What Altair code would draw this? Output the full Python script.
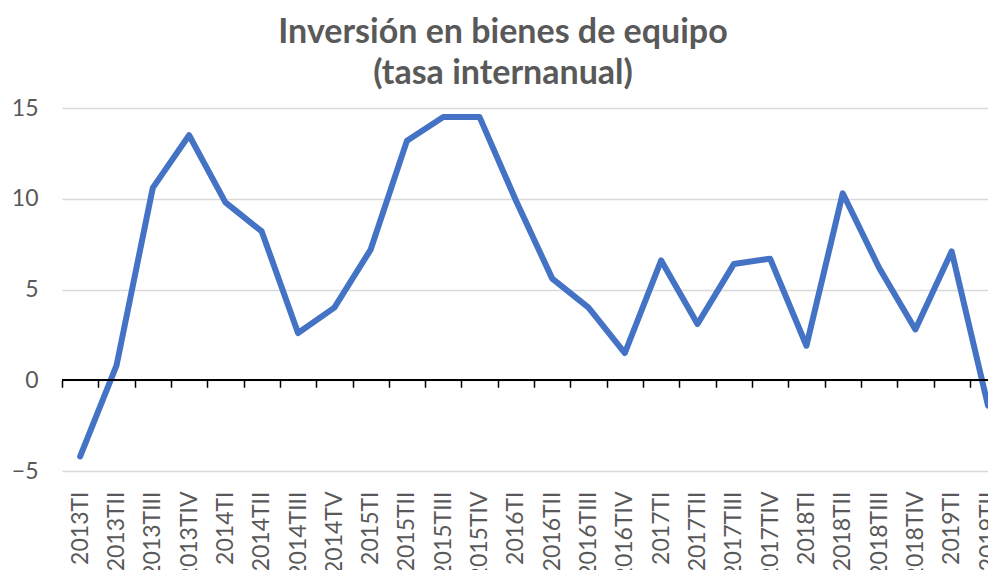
import altair as alt
import pandas as pd
import json

quarters = ["2013TI", "2013TII", "2013TIII", "2013TIV",
            "2014TI", "2014TII", "2014TIII", "2014TV",
            "2015TI", "2015TII", "2015TIII", "2015TIV",
            "2016TI", "2016TII", "2016TIII", "2016TIV",
            "2017TI", "2017TII", "2017TIII", "2017TIV",
            "2018TI", "2018TII", "2018TIII", "2018TIV",
            "2019TI", "2019TII"]
values = [-4.2, 0.8, 10.6, 13.5,
          9.8, 8.2, 2.6, 4.0,
          7.2, 13.2, 14.5, 14.5,
          9.9, 5.6, 4.0, 1.5,
          6.6, 3.1, 6.4, 6.7,
          1.9, 10.3, 6.2, 2.8,
          7.1, -1.4]
title_lines = ["Inversión en bienes de equipo", "(tasa internanual)"]

n = len(quarters)
df = pd.DataFrame({"i": list(range(n)), "q": quarters, "v": values})

W = 926
H = 363
FONT = "Lato"
GRAY = "#595959"

xscale = alt.Scale(domain=[-0.5, n - 1], nice=False, zero=False)
yscale = alt.Scale(domain=[-5, 15], nice=False)
yaxis = alt.Axis(values=[-5, 0, 5, 10, 15], domain=False, ticks=False,
                 gridColor="#d9d9d9", gridWidth=1.5, labelPadding=24,
                 labelFontSize=23, labelFont=FONT, labelColor=GRAY)
label_expr = json.dumps(quarters) + "[datum.value]"

line = alt.Chart(df).mark_line(
    color="#4472C4", strokeWidth=6, strokeCap="round", strokeJoin="round", clip=False
).encode(
    x=alt.X("i:Q", scale=xscale, title=None,
            axis=alt.Axis(orient="bottom", values=list(range(n)), labelExpr=label_expr,
                          labelAngle=-90, labelAlign="right", labelBaseline="middle",
                          domain=False, ticks=False, grid=False, labelPadding=20,
                          labelFontSize=23, labelFont=FONT, labelColor=GRAY,
                          labelOverlap=False, labelBound=False, labelFlush=False)),
    y=alt.Y("v:Q", scale=yscale, title=None, axis=yaxis),
)

zero = alt.Chart(df).mark_rule(color="black", strokeWidth=1.5).encode(
    y=alt.datum(0, scale=yscale, axis=yaxis, title=None)
)

ticks = alt.Chart(df).mark_point(opacity=0).encode(
    x=alt.X("i:Q", scale=xscale, title=None,
            axis=alt.Axis(orient="bottom", offset=-H / 4, labels=False, domain=False,
                          values=[k - 0.5 for k in range(n)],
                          ticks=True, tickSize=7,
                          tickColor="black", tickWidth=1.5, grid=False)),
)

chart = alt.layer(line, zero, ticks).resolve_axis(x="independent").properties(
    width=W, height=H,
    autosize=alt.AutoSizeParams(type="none"),
    padding={"left": 54, "top": 100, "right": 0, "bottom": 99},
    title=alt.TitleParams(text=title_lines, font=FONT, fontSize=34, fontWeight="bold",
                          color=GRAY, lineHeight=41, offset=6, anchor="middle", dx=-22),
).configure_view(stroke=None)

chart.save("out.html", embed_options={"renderer": "svg", "actions": False})
